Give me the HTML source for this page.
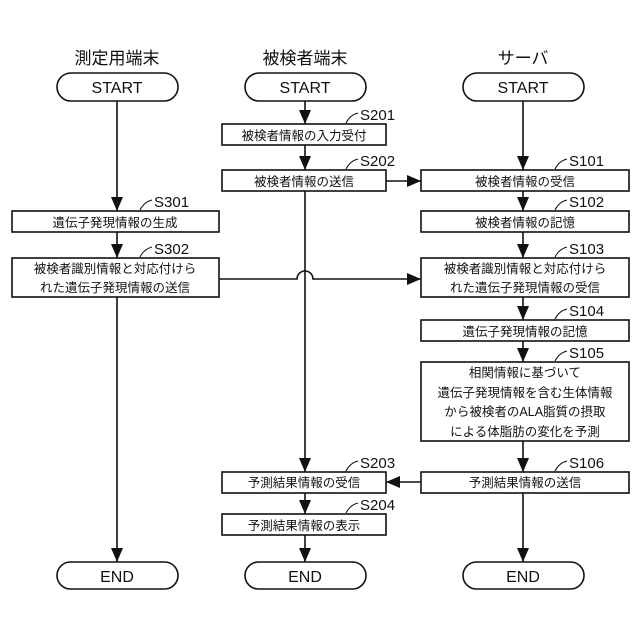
<!DOCTYPE html>
<html><head><meta charset="utf-8"><style>
html,body{margin:0;padding:0;background:#fff;}
svg{display:block;}
text{font-family:"Liberation Sans","Noto Sans CJK JP",sans-serif;fill:#111;}
</style></head><body>
<svg width="640" height="640" viewBox="0 0 640 640" xmlns="http://www.w3.org/2000/svg">
<defs><marker id="a" markerWidth="14" markerHeight="12" refX="14" refY="6" orient="auto" markerUnits="userSpaceOnUse"><path d="M0,0L14,6L0,12Z" fill="#111"/></marker></defs>
<g font-size="17" text-anchor="middle">
<text x="117" y="64">測定用端末</text>
<text x="305" y="64">被検者端末</text>
<text x="523" y="64">サーバ</text>
</g>
<g fill="none" stroke="#111" stroke-width="1.6">
<rect x="57" y="73" width="121" height="28" rx="14"/>
<rect x="245" y="73" width="121" height="28" rx="14"/>
<rect x="463" y="73" width="121" height="28" rx="14"/>
<rect x="57" y="562" width="121" height="27" rx="13.5"/>
<rect x="245" y="562" width="121" height="27" rx="13.5"/>
<rect x="463" y="562" width="121" height="27" rx="13.5"/>
<rect x="222" y="124" width="164" height="21"/>
<rect x="222" y="170" width="164" height="21"/>
<rect x="421" y="170" width="208" height="21"/>
<rect x="12" y="211" width="207" height="21"/>
<rect x="421" y="211" width="208" height="21"/>
<rect x="12" y="258" width="207" height="39"/>
<rect x="421" y="258" width="208" height="39"/>
<rect x="421" y="320" width="208" height="21"/>
<rect x="421" y="362" width="208" height="79"/>
<rect x="222" y="472" width="164" height="21"/>
<rect x="421" y="472" width="208" height="21"/>
<rect x="222" y="514" width="164" height="21"/>
</g>
<g stroke="#111" stroke-width="1.6" fill="none" marker-end="url(#a)">
<line x1="117" y1="101" x2="117" y2="211"/>
<line x1="117" y1="232" x2="117" y2="258"/>
<line x1="117" y1="297" x2="117" y2="562"/>
<line x1="305" y1="101" x2="305" y2="124"/>
<line x1="305" y1="145" x2="305" y2="170"/>
<line x1="305" y1="191" x2="305" y2="472"/>
<line x1="305" y1="493" x2="305" y2="514"/>
<line x1="305" y1="535" x2="305" y2="562"/>
<line x1="523" y1="101" x2="523" y2="170"/>
<line x1="523" y1="191" x2="523" y2="211"/>
<line x1="523" y1="232" x2="523" y2="258"/>
<line x1="523" y1="297" x2="523" y2="320"/>
<line x1="523" y1="341" x2="523" y2="362"/>
<line x1="523" y1="441" x2="523" y2="472"/>
<line x1="523" y1="493" x2="523" y2="562"/>
<line x1="386" y1="181" x2="421" y2="181"/>
<line x1="421" y1="482" x2="386" y2="482"/>
<path d="M219,279H297A8,8 0 0 1 313,279H421"/>
</g>
<g fill="none" stroke="#111" stroke-width="1">
<path d="M346,123Q350,115 358,113"/>
<path d="M346,169Q350,161 358,159"/>
<path d="M140,210Q144,202 152,200"/>
<path d="M140,257Q144,249 152,247"/>
<path d="M555,169Q559,161 567,159"/>
<path d="M555,210Q559,202 567,200"/>
<path d="M555,257Q559,249 567,247"/>
<path d="M555,319Q559,311 567,309"/>
<path d="M555,361Q559,353 567,351"/>
<path d="M555,471Q559,463 567,461"/>
<path d="M346,471Q350,463 358,461"/>
<path d="M346,513Q350,505 358,503"/>
</g>
<g font-size="15">
<text x="360" y="120">S201</text>
<text x="360" y="166">S202</text>
<text x="154" y="207">S301</text>
<text x="154" y="254">S302</text>
<text x="569" y="166">S101</text>
<text x="569" y="207">S102</text>
<text x="569" y="254">S103</text>
<text x="569" y="316">S104</text>
<text x="569" y="358">S105</text>
<text x="569" y="468">S106</text>
<text x="360" y="468">S203</text>
<text x="360" y="510">S204</text>
</g>
<g font-size="16" text-anchor="middle">
<text x="117" y="93">START</text>
<text x="305" y="93">START</text>
<text x="523" y="93">START</text>
<text x="117" y="582">END</text>
<text x="305" y="582">END</text>
<text x="523" y="582">END</text>
</g>
<g font-size="12.5" text-anchor="middle">
<text x="304" y="140">被検者情報の入力受付</text>
<text x="304" y="186">被検者情報の送信</text>
<text x="525" y="186">被検者情報の受信</text>
<text x="115" y="227">遺伝子発現情報の生成</text>
<text x="525" y="227">被検者情報の記憶</text>
<text x="115" y="273">被検者識別情報と対応付けら</text>
<text x="115" y="292">れた遺伝子発現情報の送信</text>
<text x="525" y="273">被検者識別情報と対応付けら</text>
<text x="525" y="292">れた遺伝子発現情報の受信</text>
<text x="525" y="336">遺伝子発現情報の記憶</text>
<text x="525" y="377">相関情報に基づいて</text>
<text x="525" y="397">遺伝子発現情報を含む生体情報</text>
<text x="525" y="416">から被検者のALA脂質の摂取</text>
<text x="525" y="436">による体脂肪の変化を予測</text>
<text x="304" y="487">予測結果情報の受信</text>
<text x="525" y="487">予測結果情報の送信</text>
<text x="304" y="530">予測結果情報の表示</text>
</g>
</svg>
</body></html>
